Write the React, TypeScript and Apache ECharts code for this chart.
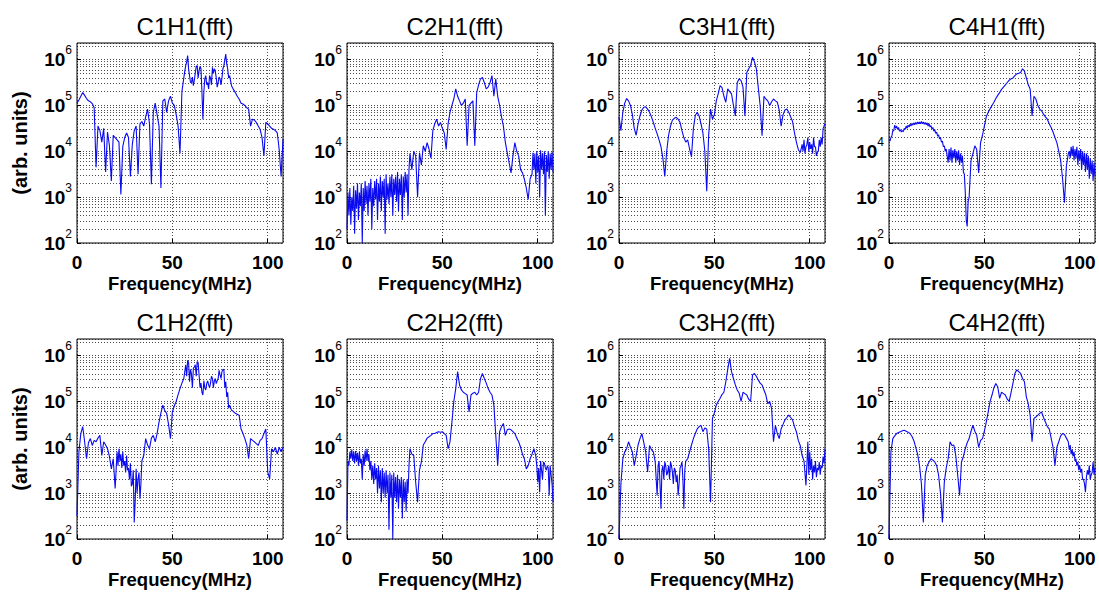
import React, { useEffect, useRef } from "react";
import * as echarts from "echarts";

// Frequency samples (MHz), 1 MHz step from 0 to 108
const FREQ_MHZ: number[] = Array.from({ length: 109 }, (_, i) => i);

// Spectra, stored as log10(amplitude) (arb. units), one value per MHz
const c1h1Log = [5.05,5.12,5.2,5.28,5.22,5.15,5.1,5.08,5.04,4.95,3.65,4.55,4.45,4.2,4.5,3.55,4.42,4.12,3.35,4.35,4.3,4.25,4.2,3.06,4.1,4.3,4.4,4.3,3.45,4.15,4.45,4.55,3.5,4.6,4.65,4.55,4.75,4.92,4.6,3.28,4.85,5.05,4.8,4.55,3.2,5.1,5.14,4.85,5.1,5.2,5.05,5.0,4.8,4.55,3.95,5.3,5.6,5.87,6.09,5.65,5.5,5.43,5.7,5.87,5.76,5.8,4.7,5.58,5.45,5.36,5.6,5.83,5.8,5.6,5.5,5.58,5.6,5.87,6.12,5.8,5.65,5.43,5.35,5.28,5.2,5.14,5.05,5.03,5.0,4.95,4.92,4.55,4.7,4.68,4.63,4.55,4.48,4.3,3.9,4.63,4.6,4.55,4.5,4.48,4.45,4.4,4.04,3.45,4.26];
const c2h1Log = [2.3,2.6,2.4,2.7,2.2,2.75,2.5,2.8,2.0,2.7,2.85,2.6,2.9,2.3,2.8,2.95,2.5,2.9,2.7,3.0,2.2,2.95,2.85,3.0,2.6,3.05,2.9,2.7,3.05,2.5,3.0,3.1,2.6,3.95,3.6,4.0,3.9,3.0,3.97,3.7,4.12,4.0,4.19,4.05,3.85,4.45,4.6,4.7,4.55,4.63,4.5,4.4,4.04,4.6,4.85,5.0,5.14,5.36,5.2,5.1,5.0,5.05,5.14,4.12,5.0,5.05,5.1,4.12,5.28,5.45,5.58,5.61,5.5,5.36,5.4,5.5,5.65,5.2,5.58,5.2,5.0,4.75,4.55,4.2,3.97,3.75,3.53,3.9,4.19,4.0,3.9,3.6,3.53,3.39,3.2,2.95,3.4,3.5,3.6,3.3,3.55,3.0,3.6,3.5,2.6,3.55,3.4,3.6,3.55];
const c3h1Log = [4.75,4.45,4.85,5.05,5.15,5.1,5.0,4.8,4.5,4.35,4.6,4.77,4.9,4.96,4.97,4.92,4.85,4.75,4.63,4.5,4.38,4.25,4.1,3.85,3.45,4.0,4.35,4.55,4.68,4.72,4.74,4.7,4.63,4.45,4.3,4.2,4.25,4.05,3.88,4.5,4.78,4.85,4.77,4.6,4.4,4.0,3.13,4.35,4.92,4.7,4.8,5.1,5.25,5.43,5.39,5.2,5.07,5.36,5.3,5.25,5.0,4.77,5.5,5.58,5.54,5.4,4.77,5.72,5.8,5.87,6.05,5.95,5.8,5.4,5.0,4.34,5.2,5.14,5.1,5.0,5.08,5.14,5.1,5.07,4.9,4.55,4.8,4.9,4.92,4.85,4.75,4.65,4.4,4.2,4.04,3.97,4.15,4.25,4.1,4.3,4.2,4.15,4.3,4.1,3.98,4.25,4.3,4.5,4.6];
const c4h1Log = [4.26,4.3,4.45,4.57,4.55,4.52,4.47,4.45,4.5,4.55,4.57,4.59,4.61,4.62,4.63,4.64,4.64,4.65,4.64,4.63,4.62,4.6,4.56,4.52,4.47,4.42,4.36,4.3,4.22,4.12,4.05,3.75,3.8,3.75,3.85,3.75,3.8,3.7,3.75,3.55,3.1,2.36,3.0,3.8,3.95,4.12,4.04,3.53,4.19,4.35,4.55,4.75,4.85,4.93,5.0,5.07,5.15,5.22,5.28,5.35,5.4,5.45,5.5,5.55,5.58,5.6,5.65,5.69,5.7,5.72,5.8,5.75,5.6,5.45,5.36,4.77,5.2,5.14,5.0,4.92,4.88,4.81,4.75,4.7,4.6,4.52,4.42,4.3,4.19,4.0,3.8,3.4,2.88,3.68,3.95,3.85,3.9,3.8,3.85,3.7,3.8,3.6,3.7,3.55,3.6,3.4,3.5,3.35,3.45];
const c1h2Log = [2.5,3.9,4.3,4.45,4.12,3.75,4.1,4.19,4.04,4.15,4.12,4.2,4.26,3.82,4.12,4.05,3.97,3.8,3.53,3.75,3.1,3.9,3.97,3.85,3.9,3.7,3.82,3.55,3.65,3.2,2.36,3.53,3.3,2.88,3.7,3.82,4.19,4.05,3.97,4.2,4.26,4.12,4.3,4.55,4.75,4.92,4.8,4.74,4.5,4.19,4.77,4.9,5.0,5.15,5.28,5.4,5.5,5.8,5.9,5.43,5.6,5.72,5.8,5.87,5.58,5.4,5.14,5.3,5.39,5.36,5.4,5.5,5.45,5.39,5.5,5.58,5.65,5.69,5.43,5.2,4.92,4.81,4.78,4.74,4.72,4.7,4.4,4.3,4.19,4.05,3.75,4.19,4.15,4.12,4.08,4.04,4.15,4.19,4.3,4.4,3.46,3.31,3.97,3.9,4.0,3.85,4.0,3.9,4.0];
const c2h2Log = [2.4,3.6,3.75,3.7,3.65,3.7,3.6,3.65,3.3,3.6,3.7,3.7,3.5,3.3,3.2,3.3,3.0,3.1,2.8,3.0,2.9,3.0,2.2,2.9,2.0,2.9,2.8,2.66,2.9,2.45,2.8,2.6,3.0,3.97,3.85,3.82,3.24,2.8,3.5,3.68,4.05,4.12,4.2,4.23,4.26,4.3,4.3,4.32,4.34,4.33,4.34,4.3,4.26,3.97,4.12,4.55,5.0,5.28,5.65,5.36,5.25,5.2,5.17,5.14,4.77,5.14,5.18,5.2,5.14,5.2,5.5,5.61,5.5,5.4,5.28,5.2,5.14,4.92,4.26,3.6,4.34,4.45,4.52,4.26,4.38,4.4,4.38,4.34,4.3,4.2,4.12,4.0,3.85,3.75,3.53,3.6,3.75,3.85,3.97,3.8,3.24,3.02,3.5,3.68,3.55,3.6,2.95,3.4,2.8];
const c3h2Log = [2.0,3.2,3.75,3.9,3.97,4.12,4.0,3.9,3.6,3.82,4.05,4.19,4.3,4.1,3.9,3.46,4.04,3.95,3.9,3.68,2.95,3.7,2.66,3.6,3.68,3.39,3.6,3.68,3.46,3.55,3.24,2.95,3.55,3.68,2.66,3.7,3.75,3.9,4.05,4.19,4.3,4.4,4.45,4.48,4.34,4.42,4.4,3.97,2.8,4.63,4.75,4.92,5.0,5.07,5.15,5.2,5.43,5.7,5.94,5.65,5.5,5.36,5.25,5.18,5.0,5.2,5.17,5.14,5.05,5.0,5.58,5.61,5.55,5.47,5.4,5.36,5.25,5.14,4.95,5.0,4.85,4.12,4.48,4.3,4.19,4.4,4.5,4.6,4.65,4.7,4.65,4.6,4.45,4.34,4.15,4.04,3.82,3.7,3.17,4.12,3.9,3.75,3.6,3.7,3.55,3.68,3.6,3.8,3.97];
const c4h2Log = [2.0,3.9,4.19,4.25,4.3,4.32,4.34,4.36,4.37,4.35,4.33,4.3,4.24,4.15,4.0,3.85,3.6,3.2,2.36,3.39,3.6,3.68,3.75,3.72,3.68,3.6,3.39,3.0,2.36,3.24,3.55,3.75,4.12,4.04,4.05,3.82,3.4,2.95,3.68,3.8,3.97,4.1,4.19,4.35,4.48,4.35,4.26,4.0,4.15,4.19,4.35,4.55,4.77,5.0,5.14,5.3,5.39,5.32,5.07,5.2,5.17,5.14,5.05,5.0,5.2,5.4,5.61,5.69,5.65,5.61,5.5,5.43,5.1,4.95,4.7,4.12,4.63,4.66,4.7,4.74,4.77,4.65,4.55,4.45,4.4,4.2,4.0,3.6,4.0,4.12,4.25,4.3,4.28,4.2,4.12,4.05,3.95,3.9,3.75,3.68,3.6,3.53,3.3,3.02,3.5,3.6,3.4,3.68,3.55];

// Extra in-between samples in the noisy / jagged stretches: [first MHz, log10 values at 1 MHz steps]
const c1h1Half: [number, number[]][] = [
  [56.5, [5.75,5.95,5.8,5.5,5.62,5.55,5.85,5.6,5.85,5.3,5.3,5.65,5.5,5.65,5.45,5.7,5.75,5.4,5.62,5.45,5.8,6.0,5.9,5.6]],
];
const c2h1Half: [number, number[]][] = [
  [0.5, [3.1,3.2,3.0,3.25,3.15,3.3,3.1,3.3,3.2,3.35,3.25,3.3,3.4,3.2,3.35,3.4,3.3,3.45,3.35,3.4,3.5,3.3,3.45,3.5,3.4,3.45,3.55,3.4,3.5,3.45,3.55,3.5,3.6]],
  [97.5, [3.97,3.95,4.0,3.9,4.02,3.95,4.0,3.92,4.0,3.95,3.98]],
];
const c3h1Half: [number, number[]][] = [
  [95.5, [4.05,4.0,3.95,4.15,4.0,4.05,3.95,4.1,3.9,4.0,4.1,4.15]],
];
const c4h1Half: [number, number[]][] = [
  [0.5, [4.22,4.33,4.45,4.5,4.48,4.44,4.42,4.43,4.48,4.5,4.53,4.55,4.57,4.58,4.59,4.6,4.6,4.6,4.59,4.58,4.55,4.53,4.49,4.44,4.39,4.33,4.27,4.2,4.1,4.0]],
  [31.5, [4.05,4.08,4.02,4.05,4.0,4.02,3.95,3.9,3.5,2.5,2.9]],
  [94.5, [4.0,4.1,4.12,4.05,4.1,4.02,4.05,4.0,3.97,3.95,3.9,3.85,3.8,3.75]],
];
const c1h2Half: [number, number[]][] = [
  [20.5, [3.5,3.6,3.7,3.55,3.6,3.45,3.5,3.3,3.15,3.5,2.8,3.0,3.45,3.2]],
  [55.5, [5.45,5.65,5.55,5.85,5.7,5.3,5.75,5.55,5.85,5.3,5.2,5.45,5.25,5.45,5.3,5.55,5.3,5.5,5.45,5.68,5.5,5.7,5.3,5.1,4.85]],
];
const c2h2Half: [number, number[]][] = [
  [0.5, [3.7,3.9,3.95,3.9,3.92,3.88,3.9,3.75,3.85,3.93,3.97,3.85,3.7,3.6,3.65,3.55,3.6,3.5,3.55,3.45,3.5,3.4,3.45,3.4,3.45,3.35,3.4,3.3,3.35,3.3,3.25,3.3,3.6]],
  [99.5, [3.6,3.55,3.7,3.3,3.65,3.5,3.55,3.6,3.2]],
];
const c3h2Half: [number, number[]][] = [
  [19.5, [3.3,3.6,3.2,3.5,3.3,3.6,3.45,3.3,3.6,3.2,3.5,3.4,3.2,3.6,3.3,3.5]],
  [98.5, [3.6,3.4,3.5,3.3,3.45,3.35,3.5,3.4,3.55,3.65]],
];
const c4h2Half: [number, number[]][] = [
  [94.5, [3.95,3.85,3.8,3.7,3.6,3.5,3.45,3.3,3.2,3.35,3.4,3.3,3.45,3.4]],
];

const PANEL_TITLES = ["C1H1(fft)", "C2H1(fft)", "C3H1(fft)", "C4H1(fft)", "C1H2(fft)", "C2H2(fft)", "C3H2(fft)", "C4H2(fft)"];
const PANEL_LOGS = [c1h1Log, c2h1Log, c3h1Log, c4h1Log, c1h2Log, c2h2Log, c3h2Log, c4h2Log];
const PANEL_HALVES = [c1h1Half, c2h1Half, c3h1Half, c4h1Half, c1h2Half, c2h2Half, c3h2Half, c4h2Half];

// axis settings
const X_MIN = 0;
const X_MAX = 108;
const X_INTERVAL = 50;
const Y_MIN = 1e2;
const Y_MAX = 2.3e6;
const MINOR_MANTISSAS = [2, 3, 4, 5, 6, 7, 8, 9];
const DECADES = [1e2, 1e3, 1e4, 1e5, 1e6];

const X_NAME = "Frequency(MHz)";
const Y_NAME = "(arb. units)";

const FONT = "'Liberation Sans', Arial, Helvetica, sans-serif";
const LEFTS = [77, 347, 619, 889];
const TOPS = [43, 339];
const PW = 206;
const PH = 200;
const TITLE_TOPS = [9, 305];

const DOT = { color: "#000", width: 1, type: [1, 2] as number[], opacity: 0.7 };
const LINE_COLOR = "#0a0af0";

function panelData(i: number): number[][] {
  const pts: number[][] = FREQ_MHZ.map((f, k) => [f, PANEL_LOGS[i][k]]);
  PANEL_HALVES[i].forEach(([start, vals]) => {
    vals.forEach((v, j) => pts.push([start + j, v]));
  });
  pts.sort((a, b) => a[0] - b[0]);
  return pts.map(([f, e]) => [f, Math.pow(10, e)]);
}

function buildOption() {
  const grid: any[] = [];
  const xAxis: any[] = [];
  const yAxis: any[] = [];
  const series: any[] = [];
  const title: any[] = [];

  const minorValues: number[] = [];
  DECADES.forEach((d) => MINOR_MANTISSAS.forEach((m) => {
    const v = d * m;
    if (v < Y_MAX) minorValues.push(v);
  }));

  for (let i = 0; i < 8; i++) {
    const row = Math.floor(i / 4);
    const col = i % 4;
    grid.push({
      left: LEFTS[col], top: TOPS[row], width: PW, height: PH,
      show: true, borderColor: "#000", borderWidth: 1, backgroundColor: "transparent",
      containLabel: false,
    });
    title.push({
      text: PANEL_TITLES[i],
      left: LEFTS[col] + PW / 2,
      top: TITLE_TOPS[row],
      textAlign: "center",
      textStyle: { fontFamily: FONT, fontSize: 24, fontWeight: "normal", color: "#000" },
    });
    xAxis.push({
      type: "value", gridIndex: i, min: X_MIN, max: X_MAX, interval: X_INTERVAL,
      name: X_NAME, nameLocation: "middle", nameGap: 31,
      nameTextStyle: { fontFamily: FONT, fontSize: 18.5, fontWeight: "bold", color: "#000" },
      axisLine: { show: false },
      axisTick: { show: true, inside: true, length: 4, lineStyle: { color: "#000" } },
      axisLabel: {
        fontFamily: FONT, fontSize: 19, fontWeight: "bold", color: "#000", margin: 10,
        showMaxLabel: false,
        formatter: (v: number) => (v % X_INTERVAL === 0 ? String(v) : ""),
      },
      splitLine: { show: true, lineStyle: DOT },
    });
    yAxis.push({
      type: "log", logBase: 10, gridIndex: i, min: Y_MIN, max: Y_MAX,
      name: col === 0 ? Y_NAME : "", nameLocation: "middle", nameGap: 47, nameRotate: 90,
      nameTextStyle: { fontFamily: FONT, fontSize: 20, fontWeight: "bold", color: "#000" },
      axisLine: { show: false },
      axisTick: { show: true, inside: true, length: 4, lineStyle: { color: "#000" } },
      axisLabel: {
        margin: 5,
        showMaxLabel: false,
        formatter: (v: number) => {
          const e = Math.log10(v);
          const r = Math.round(e);
          if (Math.abs(e - r) > 1e-6) return "";
          return `{b|10}{s|${r}}`;
        },
        rich: {
          b: { fontFamily: FONT, fontSize: 19, fontWeight: "bold", color: "#000", lineHeight: 31 },
          s: { fontFamily: FONT, fontSize: 12, color: "#000", lineHeight: 12, verticalAlign: "top" },
        },
      },
      splitLine: { show: true, lineStyle: DOT },
    });
    series.push({
      type: "line",
      xAxisIndex: i,
      yAxisIndex: i,
      data: panelData(i),
      showSymbol: false,
      symbol: "none",
      lineStyle: { color: LINE_COLOR, width: 1.1 },
      itemStyle: { color: LINE_COLOR },
      z: 3,
      clip: true,
      silent: true,
      markLine: {
        silent: true,
        symbol: ["none", "none"],
        label: { show: false },
        lineStyle: DOT,
        emphasis: { disabled: true },
        animation: false,
        z: 1,
        data: minorValues.map((v) => ({ yAxis: v })),
      },
    });
  }

  return { animation: false, backgroundColor: "#fff", title, grid, xAxis, yAxis, series };
}

export default function App() {
  const ref = useRef<HTMLDivElement>(null);
  useEffect(() => {
    if (!ref.current) return;
    const chart = echarts.init(ref.current, null, { renderer: "svg" });
    chart.setOption(buildOption() as any);
    return () => chart.dispose();
  }, []);
  return (
    <div
      ref={ref}
      style={{ position: "fixed", left: 0, top: 0, width: 1099, height: 596, background: "#fff" }}
    />
  );
}
